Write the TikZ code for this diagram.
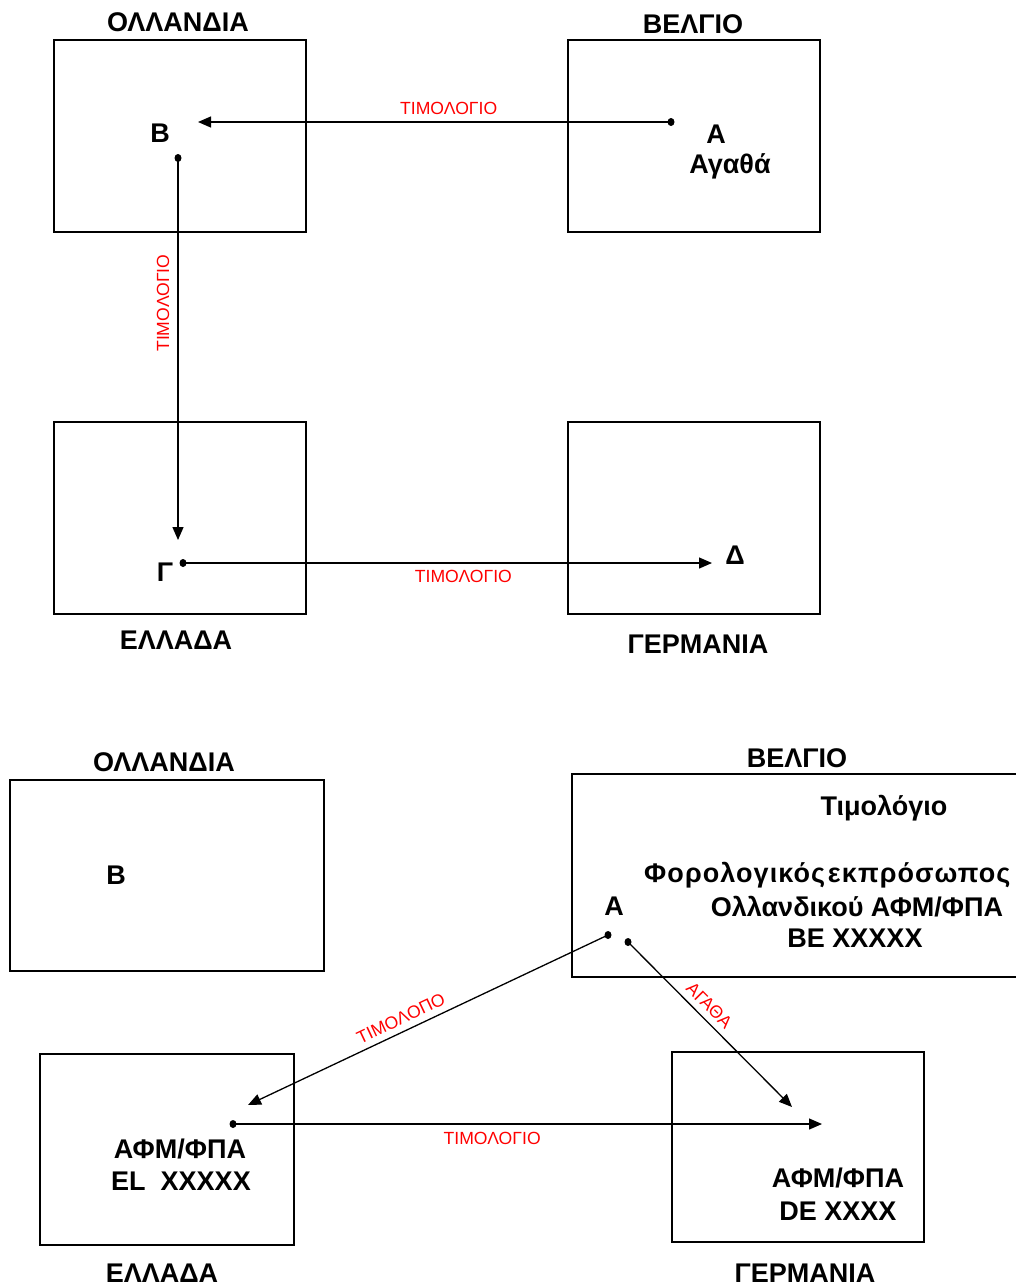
\documentclass[tikz,border=0pt]{standalone}
\usepackage{fontspec}
\setmainfont{Liberation Sans}
\usetikzlibrary{arrows.meta,shapes.geometric}
\begin{document}
\begin{tikzpicture}[x=1pt,y=-1pt,
  country/.style={draw,line width=1.3pt,minimum width=#1,inner sep=0pt},
  big/.style={font=\fontsize{27}{31}\selectfont\bfseries,inner sep=0pt},
  red label/.style={font=\fontsize{17.6}{20}\selectfont,text=red,inner sep=0pt},
  flow/.style={line width=1.3pt,-{Triangle[length=13pt,width=11pt]}},
  dot/.style={ellipse,fill=black,minimum width=7pt,minimum height=8pt,inner sep=0pt}]
\useasboundingbox (0,0) rectangle (1016,1285);
% ---------------- top ----------------
\node[country=252pt,minimum height=192pt] (nl1) at (180,136) {};
\node[country=252pt,minimum height=192pt] (be1) at (694,136) {};
\node[country=252pt,minimum height=192pt] (gr1) at (180,518) {};
\node[country=252pt,minimum height=192pt] (de1) at (694,518) {};
\node[big] (nl1t) at (178,22) {ΟΛΛΑΝΔΙΑ};
\node[big] (be1t) at (693,24) {ΒΕΛΓΙΟ};
\node[big] (gr1t) at (176,640) {ΕΛΛΑΔΑ};
\node[big] (de1t) at (698,644) {ΓΕΡΜΑΝΙΑ};
\node[big] (B1) at (160,133) {Β};
\node[big] (A1) at (716,134) {Α};
\node[big] (goods1) at (730,166) {Αγαθά};
\node[big] (G1) at (165,572) {Γ};
\node[big] (D1) at (735,555) {Δ};
\node[dot] (a1dot) at (671,122) {};
\coordinate (b1in) at (198,122);
\node[dot] (b1dot) at (178,158) {};
\coordinate (g1in) at (178,540);
\node[dot] (g1dot) at (183,563) {};
\coordinate (d1in) at (712,563);
\draw[flow] (a1dot.center) -- node[red label,above=7pt,pos=0.47] {ΤΙΜΟΛΟΓΙΟ} (b1in);
\draw[flow] (b1dot.center) -- node[red label,rotate=90,pos=0.38,above=8pt] {ΤΙΜΟΛΟΓΙΟ} (g1in);
\draw[flow] (g1dot.center) -- node[red label,below=7pt,pos=0.53] {ΤΙΜΟΛΟΓΙΟ} (d1in);
% ---------------- bottom ----------------
\node[country=314pt,minimum height=191pt] (nl2) at (167,875.5) {};
\draw[line width=1.3pt] (1020,774) -- (572,774) -- (572,977) -- (1020,977);
\node[country=254pt,minimum height=191pt] (gr2) at (167,1149.5) {};
\node[country=252pt,minimum height=190pt] (de2) at (798,1147) {};
\node[big] (nl2t) at (164,762) {ΟΛΛΑΝΔΙΑ};
\node[big] (be2t) at (797,758) {ΒΕΛΓΙΟ};
\node[big] (gr2t) at (162,1273) {ΕΛΛΑΔΑ};
\node[big] (de2t) at (805,1273) {ΓΕΡΜΑΝΙΑ};
\node[big] (B2) at (116,875) {Β};
\node[big] (inv) at (884,808) {Τιμολόγιο};
\node[big,anchor=west] (rep) at (644,875) {\addfontfeature{LetterSpace=4}Φορολογικός\hspace{0.1em}εκπρόσωπος};
\node[big] (dutch) at (857,907) {Ολλανδικού ΑΦΜ/ΦΠΑ};
\node[big] (bevat) at (855,938) {ΒΕ ΧΧΧΧΧ};
\node[big] (A2) at (614,906) {Α};
\node[big] (grvat) at (180,1149) {ΑΦΜ/ΦΠΑ};
\node[big] (grno) at (181,1181) {EL\ \ XXXXX};
\node[big] (devat) at (838,1178) {ΑΦΜ/ΦΠΑ};
\node[big] (deno) at (838,1211) {DE XXXX};
\node[dot] (a2dot) at (608,935) {};
\node[dot] (a2dotb) at (628,942) {};
\coordinate (g2in) at (248,1105);
\coordinate (d2in) at (792,1107);
\node[dot] (g2dot) at (233,1124) {};
\coordinate (d2in2) at (822,1124);
\draw[flow] (a2dot.center) -- node[red label,sloped,above=6pt,pos=0.56] {ΤΙΜΟΛΟΠΟ} (g2in);
\draw[flow] (a2dotb.center) -- node[red label,sloped,above=6pt,pos=0.44] {ΑΓΑΘΑ} (d2in);
\draw[flow] (g2dot.center) -- node[red label,below=8pt,pos=0.44] {ΤΙΜΟΛΟΓΙΟ} (d2in2);
\end{tikzpicture}
\end{document}
